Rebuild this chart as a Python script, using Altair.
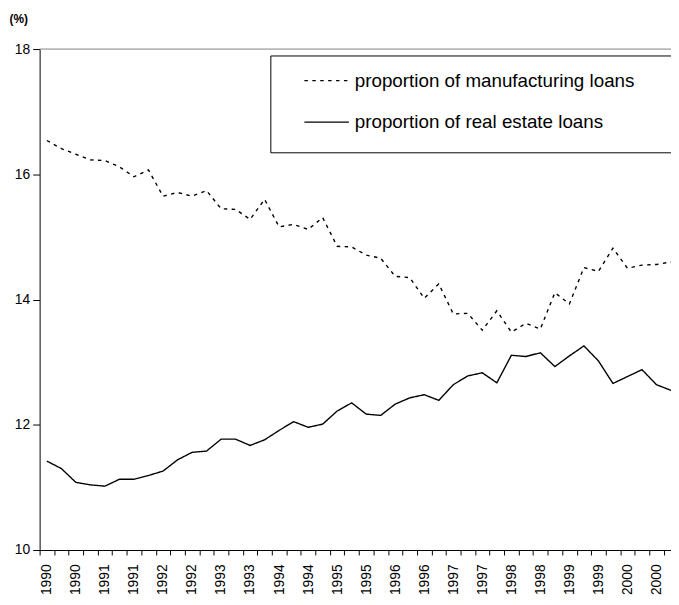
import altair as alt
import pandas as pd

series_names = ["proportion of manufacturing loans", "proportion of real estate loans"]

# quarterly shares (%), 1990 Q1 .. 2000 Q4
manufacturing = [16.54, 16.41, 16.32, 16.23, 16.22, 16.12, 15.96, 16.07, 15.65, 15.71, 15.65,
                 15.74, 15.45, 15.44, 15.28, 15.60, 15.16, 15.20, 15.12, 15.31, 14.85, 14.84,
                 14.71, 14.66, 14.37, 14.35, 14.02, 14.25, 13.77, 13.78, 13.51, 13.82,
                 13.48, 13.62, 13.53, 14.11, 13.93, 14.51, 14.45, 14.82, 14.50, 14.55, 14.56, 14.60]
real_estate = [11.42, 11.30, 11.08, 11.04, 11.02, 11.13, 11.13, 11.19, 11.26, 11.44, 11.56,
               11.58, 11.77, 11.77, 11.67, 11.76, 11.91, 12.05, 11.96, 12.01, 12.22, 12.35,
               12.17, 12.15, 12.33, 12.43, 12.48, 12.39, 12.64, 12.78, 12.83, 12.67,
               13.11, 13.09, 13.15, 12.93, 13.10, 13.26, 13.02, 12.66, 12.77, 12.88, 12.64, 12.55]

years = list(range(1990, 2001))
quarters = [f"{y} Q{q}" for y in years for q in range(1, 5)]

# labels shown on every second quarter
x_labels = ["1990", "1990", "1991", "1991", "1992", "1992", "1993", "1993",
            "1994", "1994", "1995", "1995", "1996", "1996", "1997", "1997",
            "1998", "1998", "1999", "1999", "2000", "2000"]
y_ticks = [10, 12, 14, 16, 18]

rows = []
for name, vals in zip(series_names, [manufacturing, real_estate]):
    for i, (q, v) in enumerate(zip(quarters, vals)):
        rows.append({"idx": i, "quarter": q, "series": name, "value": v})
df = pd.DataFrame(rows)

W, H = 639, 507
FONT = "Liberation Sans"
DASH = [3.5, 4.5]

boundaries = [i - 0.5 for i in range(len(quarters))]
js_labels = "[" + ",".join(f"'{s}'" for s in x_labels) + "]"
label_expr = f"((datum.value + 0.5) % 2 == 0) ? {js_labels}[(datum.value + 0.5) / 2] : ''"

x_enc = alt.X(
    "idx:Q",
    scale=alt.Scale(domain=[-0.5, len(quarters) - 1], nice=False, zero=False),
    axis=alt.Axis(
        values=boundaries, labelExpr=label_expr, labelAngle=270, labelOffset=7.3,
        labelFlush=False, labelOverlap=False, tickSize=5, labelPadding=9,
        labelFontSize=14, title=None, grid=False,
    ),
)
y_enc = alt.Y(
    "value:Q",
    scale=alt.Scale(domain=[10, 18], nice=False, zero=False),
    axis=alt.Axis(
        values=y_ticks, format="d", tickSize=7, labelPadding=3, labelFontSize=14,
        labelFlush=False, grid=False,
        title="(%)", titleAngle=0, titleFontWeight="bold", titleFontSize=12,
        titleX=-31, titleY=-31, titleAlign="left", titleBaseline="middle",
        titleFont=FONT, titleColor="black",
    ),
)

lines = alt.Chart(df).mark_line(color="black", strokeWidth=1.4).encode(
    x=x_enc,
    y=y_enc,
    strokeDash=alt.StrokeDash(
        "series:N",
        scale=alt.Scale(domain=series_names, range=[DASH, [1, 0]]),
        legend=None,
    ),
)

top_border = alt.Chart(alt.Data(values=[{"v": 18}])).mark_rule(
    color="#808080", strokeWidth=1
).encode(y=alt.Y("v:Q"))

legend_box = alt.Chart(alt.Data(values=[{"k": 1}])).mark_rect(
    fill="white", stroke="black", strokeWidth=1
).encode(x=alt.value(234), x2=alt.value(700), y=alt.value(7), y2=alt.value(105))

leg_layers = []
for name, dash, ypos in [(series_names[0], DASH, 32), (series_names[1], [1, 0], 74)]:
    d = alt.Data(values=[{"series": name}])
    leg_layers.append(
        alt.Chart(d).mark_rule(color="black", strokeWidth=1.4, strokeDash=dash).encode(
            x=alt.value(268), x2=alt.value(313), y=alt.value(ypos)
        )
    )
    leg_layers.append(
        alt.Chart(d).mark_text(
            align="left", baseline="middle", fontSize=19, font=FONT, color="black"
        ).encode(text="series:N", x=alt.value(319), y=alt.value(ypos))
    )

chart = alt.layer(lines, top_border, legend_box, *leg_layers).properties(
    width=W, height=H,
    autosize=alt.AutoSizeParams(type="none"),
    padding={"left": 32, "top": 38, "right": 0, "bottom": 45},
).configure_view(stroke=None).configure_axis(
    labelFont=FONT, labelColor="black", domainColor="black", tickColor="black",
    domainWidth=1, tickWidth=1,
)

chart.save("out.html", embed_options={"renderer": "svg", "actions": False})
